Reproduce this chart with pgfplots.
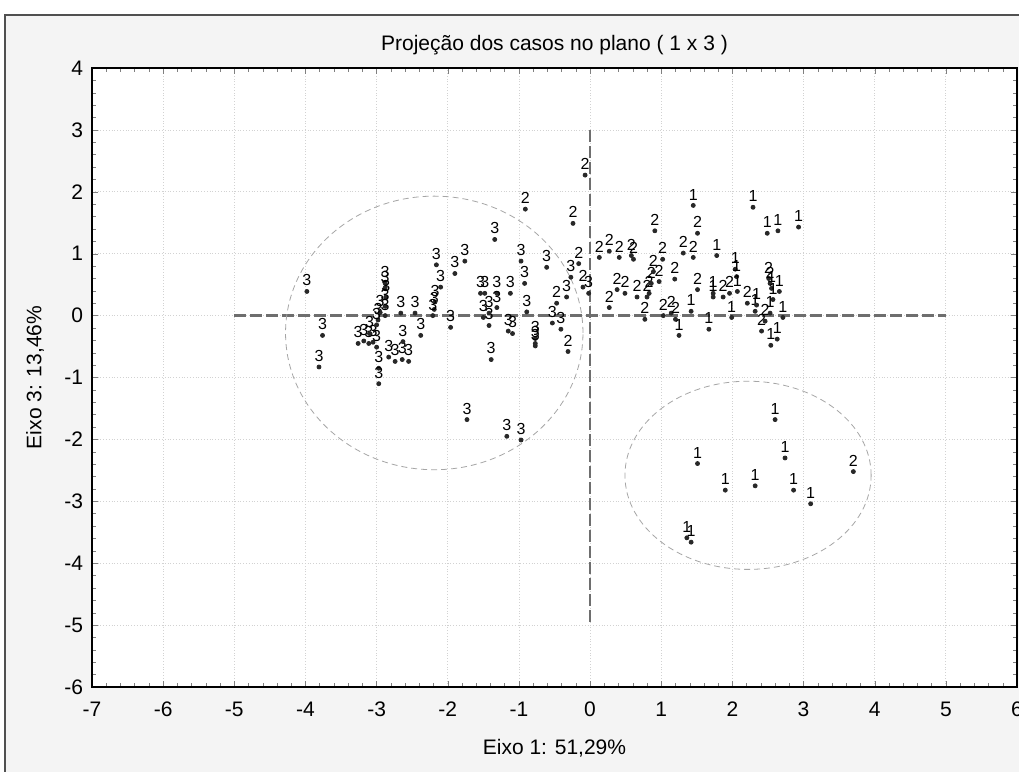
\documentclass[border=0pt]{standalone}
\usepackage{pgfplots}
\pgfplotsset{compat=1.18}
\usepackage{fontspec}
\setmainfont{Liberation Sans}
\definecolor{bggray}{RGB}{244,244,244}
\definecolor{frame}{RGB}{80,80,80}
\definecolor{refline}{RGB}{110,110,110}
\definecolor{dotc}{RGB}{40,40,40}

\pgfplotstableread{
x y l
-3.98 0.39 3
-3.76 -0.32 3
-3.81 -0.83 3
-3.26 -0.45 3
-3.18 -0.41 3
-3.11 -0.45 3
-3.05 -0.43 3
-3.10 -0.29 3
-3.00 -0.51 3
-2.98 -0.07 3
-2.97 -0.85 3
-2.97 -1.10 3
-2.88 0.52 3
-2.88 0.45 3
-2.87 0.30 3
-2.88 0.15 3
-2.88 0.00 3
-2.95 0.05 3
-3.00 -0.15 3
-2.83 -0.67 3
-2.74 -0.74 3
-2.64 -0.71 3
-2.55 -0.74 3
-2.63 -0.42 3
-2.66 0.04 3
-2.46 0.04 3
-2.38 -0.32 3
-2.16 0.82 3
-2.10 0.46 3
-2.19 0.10 3
-2.18 0.22 3
-2.21 0.00 3
-1.96 -0.19 3
-1.90 0.68 3
-1.34 1.23 3
-1.76 0.88 3
-0.97 0.88 3
-0.61 0.78 3
-0.92 0.52 3
-1.12 0.36 3
-1.54 0.36 3
-1.48 0.36 3
-1.31 0.36 3
-0.27 0.62 3
-0.02 0.36 3
-0.33 0.30 3
-1.31 0.13 3
-1.50 -0.03 3
-1.42 -0.16 3
-1.42 0.04 3
-0.89 0.06 3
-1.15 -0.25 3
-1.09 -0.29 3
-0.77 -0.37 3
-0.77 -0.45 3
-0.77 -0.49 3
-0.53 -0.12 3
-0.41 -0.22 3
-1.39 -0.71 3
-1.73 -1.68 3
-1.17 -1.95 3
-0.97 -2.01 3
-0.07 2.27 2
-0.91 1.72 2
-0.24 1.49 2
-0.16 0.84 2
-0.10 0.46 2
-0.47 0.20 2
-0.31 -0.58 2
0.13 0.94 2
0.27 1.04 2
0.41 0.94 2
0.58 0.97 2
0.61 0.91 2
0.91 1.37 2
1.02 0.91 2
1.31 1.01 2
1.45 0.94 2
1.51 1.33 2
0.27 0.13 2
0.38 0.42 2
0.49 0.36 2
0.66 0.30 2
0.77 -0.06 2
0.80 0.30 2
0.83 0.36 2
0.86 0.52 2
0.89 0.71 2
0.97 0.55 2
1.03 0.00 2
1.14 0.04 2
1.20 -0.06 2
1.19 0.59 2
1.51 0.42 2
1.87 0.30 2
1.96 0.36 2
2.21 0.20 2
2.41 -0.25 2
2.46 -0.09 2
2.51 0.60 2
2.53 0.52 2
3.70 -2.52 2
1.45 1.78 1
1.78 0.97 1
2.29 1.75 1
2.49 1.33 1
2.64 1.37 1
2.93 1.43 1
1.25 -0.32 1
1.42 0.07 1
1.67 -0.22 1
1.73 0.36 1
1.73 0.30 1
1.99 -0.03 1
2.04 0.75 1
2.06 0.63 1
2.07 0.39 1
2.32 0.07 1
2.34 0.17 1
2.55 0.44 1
2.57 0.26 1
2.53 0.04 1
2.66 0.39 1
2.71 -0.03 1
2.54 -0.48 1
2.63 -0.38 1
2.60 -1.68 1
2.74 -2.30 1
1.51 -2.39 1
1.90 -2.82 1
2.32 -2.75 1
2.86 -2.82 1
3.10 -3.04 1
1.36 -3.59 1
1.42 -3.66 1
}\casos

\begin{document}
\begin{tikzpicture}
\useasboundingbox (-46pt,-42.5pt) rectangle (463.5pt,343.5pt);
\fill[bggray] (-43.5pt,-42.5pt) rectangle (463.5pt,336pt);
\draw[frame,line width=0.8pt] (-43.5pt,-42.5pt) -- (-43.5pt,336pt) -- (463.5pt,336pt);
\begin{axis}[
  scale only axis, width=462.5pt, height=309.5pt,
  xmin=-7, xmax=6, ymin=-6, ymax=4,
  xtick={-7,...,6}, ytick={-6,...,4},
  minor tick num=4, tick align=inside,
  major tick length=3pt, minor tick length=1.8pt,
  grid=major, major grid style={densely dotted, gray!35},
  axis line style={line width=1pt},
  axis background/.style={fill=white},
  tick label style={font=\fontsize{10.5}{12}\selectfont},
  /pgf/number format/assume math mode=true,
  xticklabel style={yshift=-4pt},
  yticklabel style={xshift=-1pt},
  every axis title shift=0pt,
  title={Projeção dos casos no plano ( 1 x 3 )},
  title style={at={(axis description cs:0.5,1.029)}, anchor=base, font=\fontsize{10.5}{12}\selectfont},
  xlabel={Eixo 1: 51,29\%},
  xlabel style={at={(axis description cs:0.5,-0.0985)}, anchor=center, font=\fontsize{10.5}{12}\selectfont},
  ylabel={Eixo 3: 13,46\%},
  ylabel style={at={(axis description cs:-0.0616,0.5)}, anchor=center, font=\fontsize{10.5}{12}\selectfont},
]
\addplot[refline, line width=1.3pt, dash pattern=on 6pt off 2pt] coordinates {(-5,0) (5,0)};
\addplot[refline, line width=1.3pt, dash pattern=on 6pt off 2pt] coordinates {(0,3) (0,-5)};
\draw[gray!70, line width=0.4pt, dash pattern=on 3pt off 2pt] (axis cs:-2.19,-0.28) ellipse [x radius=2.09, y radius=2.21];
\draw[gray!70, line width=0.4pt, dash pattern=on 3pt off 2pt] (axis cs:2.22,-2.58) ellipse [x radius=1.73, y radius=1.52];
\addplot[only marks, mark=*, mark size=1pt, dotc, mark options={draw=dotc, fill=dotc},
  nodes near coords, point meta=explicit symbolic,
  nodes near coords style={font=\fontsize{8}{9}\selectfont, text=black, anchor=south, inner sep=1pt, yshift=1.5pt}]
  table[x=x, y=y, meta=l] {\casos};
\end{axis}
\end{tikzpicture}
\end{document}
